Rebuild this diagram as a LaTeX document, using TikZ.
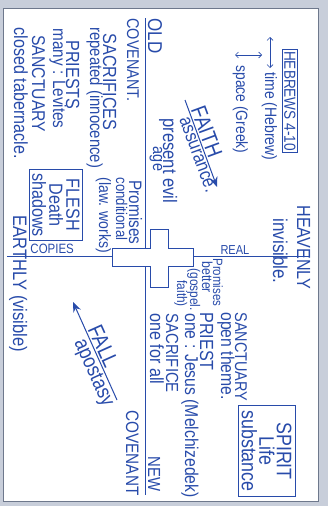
\documentclass[tikz,border=0pt]{standalone}
\usepackage{fontspec}
\usetikzlibrary{arrows.meta}
\newfontfamily\hand{Liberation Sans}[FakeStretch=0.85]
\newcommand{\hsz}[1]{\fontsize{#1}{#1}\hand}
\definecolor{ink}{RGB}{40,75,170}
\definecolor{cardbg}{RGB}{200,206,218}
\definecolor{cardedge}{RGB}{110,120,140}
\tikzset{
  lbl/.style={ink, rotate=-90, anchor=base west, inner sep=0pt},
  lblc/.style={ink, rotate=-90, anchor=base, inner sep=0pt},
  lble/.style={ink, rotate=-90, anchor=base east, inner sep=0pt},
  flat/.style={ink, anchor=base west, inner sep=0pt},
  boxlbl/.style={ink, draw=ink, rotate=-90, align=center, line width=0.8pt},
  barb/.style={{Straight Barb[length=3pt,width=6pt]}-{Straight Barb[length=3pt,width=6pt]}, line width=0.7pt},
}

\begin{document}
\begin{tikzpicture}[x=1pt, y=-1pt, >={Stealth[length=10pt,width=8pt]}, line width=1pt]
    \useasboundingbox (0,0) rectangle (328,506);
    % Card
    \fill[cardbg] (0,0) rectangle (328,506);
    \draw[cardedge, fill=white, line width=0.6pt] (3,8) rectangle (318,501);
    % Axes
    \coordinate (earth) at (7,256); \coordinate (heaven) at (310,256);
    \coordinate (oldend) at (145,18); \coordinate (newend) at (145,495);
    \draw[ink] (earth) -- (heaven);
    \draw[ink] (oldend) -- (newend);
    % Cross
    \draw[ink, fill=white] (112,248) -- (150,248) -- (150,229) -- (168,229) -- (168,248)
        -- (193,248) -- (193,266) -- (168,266) -- (168,287) -- (150,287) -- (150,266)
        -- (112,266) -- cycle;
    % Hebrews note
    \node[boxlbl, font=\hsz{16}, inner sep=2pt] (hebrews) at (290,101) {HEBREWS 4-10};
    \coordinate (time1) at (270,37); \coordinate (time2) at (270,68);
    \draw[ink, barb] (time1) -- (time2);
    \node[lbl, font=\hsz{16.5}] (time) at (265,72) {time (Hebrew)};
    \coordinate (space1) at (235,55); \coordinate (space2) at (262,55);
    \draw[ink, barb] (space1) -- (space2);
    \node[lbl, font=\hsz{16.3}] (space) at (236,65) {space (Greek)};
    % Old covenant
    \node[lbl, font=\hsz{20}] (old) at (148,18) {OLD};
    \node[lbl, font=\hsz{17}] (oldcov) at (127,18) {COVENANT.};
    \node[lbl, font=\hsz{19}] (sacr) at (103,33) {SACRIFICES};
    \node[lbl, font=\hsz{17.5}] (sacrrep) at (90,27) {repeated (innocence)};
    \node[lbl, font=\hsz{19}] (priests) at (66,40) {PRIESTS};
    \node[lbl, font=\hsz{18}] (levites) at (53,28) {many : Levites};
    \node[lbl, font=\hsz{18.5}] (sanct) at (32,35) {SANCTUARY};
    \node[lbl, font=\hsz{19}] (tabern) at (14,27) {closed tabernacle.};
    % Present age
    \node[lbl, font=\hsz{19.5}] (evil) at (163,118) {present evil};
    \node[lblc, font=\hsz{17}] (age) at (153,159) {age};
    % Law promises
    \node[lbl, font=\hsz{18}] (lawprom) at (129,180) {Promises};
    \node[lbl, font=\hsz{15.5}] (lawcond) at (116,177) {conditional};
    \node[lbl, font=\hsz{16.5}] (lawworks) at (99,177) {(law. works)};
    % Flesh box
    \node[boxlbl, font=\fontsize{19}{17}\hand, inner xsep=3.5pt, inner ysep=3pt] (flesh) at (56,205) {FLESH\\Death\\shadows};
    % Copies / real
    \node[flat, font=\hsz{13.5}] (copies) at (30,253.5) {COPIES};
    \node[flat, font=\hsz{13}] (real) at (220,254) {REAL};
    % Earthly / heavenly
    \node[lbl, font=\hsz{19.5}] (earthly) at (13,215) {EARTHLY (visible)};
    \node[lbl, font=\hsz{19}] (heavenly) at (297,205) {HEAVENLY};
    \node[lbl, font=\hsz{20}] (invis) at (273,218) {invisible.};
    % Gospel promises
    \node[lbl, font=\hsz{13.5}] (gosprom) at (213,258) {Promises};
    \node[lbl, font=\hsz{14.5}] (gospbet) at (202,261) {better};
    \node[lbl, font=\hsz{14}] (gospel) at (190,268) {(gospel.};
    \node[lbl, font=\hsz{14}] (gospfaith) at (177,280) {faith)};
    % New covenant
    \node[lbl, font=\hsz{17}] (nsanct) at (235,312) {SANCTUARY};
    \node[lbl, font=\hsz{18.5}] (ntheme) at (221,312) {open theme.};
    \node[lbl, font=\hsz{19}] (npriest) at (200,312) {PRIEST};
    \node[lbl, font=\hsz{18.5}] (njesus) at (185,313) {one : Jesus (Melchizedek)};
    \node[lbl, font=\hsz{17.5}] (nsacr) at (166,313) {SACRIFICE};
    \node[lbl, font=\hsz{19}] (nall) at (150,313) {one for all};
    % Spirit box
    \node[boxlbl, font=\fontsize{21}{17.5}\hand, inner xsep=5pt, inner ysep=3.5pt] (spirit) at (266.5,451) {SPIRIT\\Life\\substance};
    \node[lble, font=\hsz{17.5}] (new) at (148,492) {NEW};
    \node[lble, font=\hsz{18}] (newcov) at (126,496) {COVENANT};
    % Faith and fall
    \coordinate (faith1) at (185,100); \coordinate (faith2) at (217,187);
    \draw[ink, ->] (faith1) -- node[pos=.4, sloped, above, inner sep=1.5pt, font=\hsz{22}] (faith) {FAITH}
        node[pos=.6, sloped, below, inner sep=1.5pt, font=\hsz{19}] (assur) {assurance.} (faith2);
    \coordinate (fall1) at (73,302); \coordinate (fall2) at (117,400);
    \draw[ink, <-] (fall1) -- node[pos=.49, sloped, above, inner sep=1.5pt, font=\hsz{22}] (fall) {FALL}
        node[pos=.68, sloped, below, inner sep=1.5pt, font=\hsz{21}] (apost) {apostasy} (fall2);
\end{tikzpicture}
\end{document}
